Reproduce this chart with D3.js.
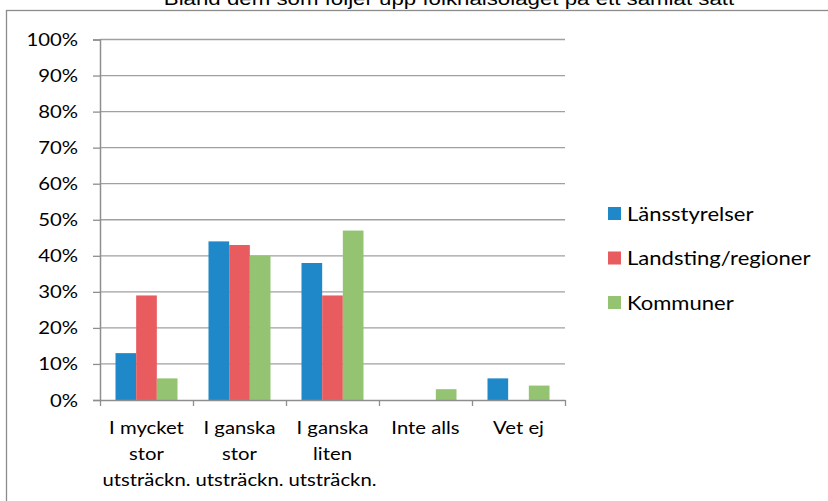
<!DOCTYPE html>
<html>
<head>
<meta charset="utf-8">
<script src="https://cdn.jsdelivr.net/npm/d3@7"></script>
<style>
  html, body { margin: 0; padding: 0; background: #fff; }
  svg { display: block; }
</style>
</head>
<body>
<svg id="chart" width="828" height="501"></svg>
<script>
const title = "Bland dem som följer upp folkhälsoläget på ett samlat sätt";
const categories = ["I mycket\nstor\nutsträckn.", "I ganska\nstor\nutsträckn.", "I ganska\nliten\nutsträckn.", "Inte alls", "Vet ej"];
const seriesNames = ["Länsstyrelser", "Landsting/regioner", "Kommuner"];
const lansstyrelser = [13, 44, 38, 0, 6];
const landsting = [29, 43, 29, 0, 0];
const kommuner = [6, 40, 47, 3, 4];
const yTicks = [0, 10, 20, 30, 40, 50, 60, 70, 80, 90, 100];
const colors = ["#1f88c9", "#e85b5f", "#94c472"];

const values = [lansstyrelser, landsting, kommuner];
const svg = d3.select("#chart");
const font = "Lato, 'Open Sans', sans-serif";
const SX = 1.16;

function stretchedText(parent, x, y, str, anchor, size, fam) {
  const g = parent.append("g").attr("transform", `translate(${x},${y}) scale(${SX},1)`);
  return g.append("text").attr("x", 0).attr("y", 0)
    .attr("text-anchor", anchor)
    .attr("font-family", fam || font)
    .attr("font-size", size)
    .attr("fill", "#000")
    .text(str);
}

// chart area border (extends beyond image)
svg.append("rect").attr("x", 6.5).attr("y", 10.5).attr("width", 900).attr("height", 600)
  .attr("fill", "none").attr("stroke", "#8c8c8c").attr("stroke-width", 1.3);

// title (partly cut at top, as in the reference)
stretchedText(svg, 449, 4.5, title, "middle", 19.2, "'Liberation Sans', Arial, sans-serif");

const plotL = 100, plotR = 565, plotT = 39.5, plotB = 400;
const x = d3.scaleBand().domain(categories).range([plotL, plotR]).paddingInner(0).paddingOuter(0);
const x1 = d3.scaleBand().domain(seriesNames).range([0, x.bandwidth()]).paddingInner(0).paddingOuter(0.75);
const y = d3.scaleLinear().domain([0, 100]).range([plotB, plotT]);

// gridlines
svg.append("g").selectAll("line").data(yTicks.filter(d => d > 0)).join("line")
  .attr("x1", plotL).attr("x2", plotR)
  .attr("y1", d => y(d)).attr("y2", d => y(d))
  .attr("stroke", "#a0a0a0").attr("stroke-width", 1.3);

// bars
const groups = svg.append("g").selectAll("g").data(categories).join("g")
  .attr("transform", c => `translate(${x(c)},0)`);
groups.selectAll("rect").data((c, i) => seriesNames.map((s, k) => ({ s, k, v: values[k][i] })))
  .join("rect")
  .attr("x", d => x1(d.s))
  .attr("width", x1.bandwidth())
  .attr("y", d => y(d.v))
  .attr("height", d => plotB - y(d.v))
  .attr("fill", d => colors[d.k]);

// y axis
const yAxis = d3.axisLeft(y).tickValues(yTicks).tickSize(7).tickFormat(() => "");
const yg = svg.append("g").attr("transform", `translate(${plotL},0)`).call(yAxis);
yg.select(".domain").attr("stroke", "#8e8e8e").attr("stroke-width", 1.5);
yg.selectAll(".tick line").attr("stroke", "#8e8e8e").attr("stroke-width", 1.3);
yTicks.forEach(t => {
  stretchedText(svg, 78, y(t) + 6.5, t + "%", "end", 17.5);
});

// x axis with ticks at category boundaries
const xb = d3.scaleLinear().domain([0, categories.length]).range([plotL, plotR]);
const xAxis = d3.axisBottom(xb).tickValues(d3.range(categories.length + 1)).tickSize(6).tickFormat(() => "").tickSizeOuter(0);
const xg = svg.append("g").attr("transform", `translate(0,${plotB})`).call(xAxis);
xg.select(".domain").attr("stroke", "#8e8e8e").attr("stroke-width", 1.5);
xg.selectAll(".tick line").attr("stroke", "#8e8e8e").attr("stroke-width", 1.3);

categories.forEach(c => {
  c.split("\n").forEach((line, j) => {
    stretchedText(svg, x(c) + x.bandwidth() / 2, 434 + j * 25.8, line, "middle", 17.5);
  });
});

// legend
const legY = [213.5, 258, 302.5];
seriesNames.forEach((s, k) => {
  svg.append("rect").attr("x", 608).attr("y", legY[k] - 6.5).attr("width", 13).attr("height", 13)
    .attr("fill", colors[k]);
  stretchedText(svg, 627, legY[k] + 7, s, "start", 19);
});
</script>
</body>
</html>
